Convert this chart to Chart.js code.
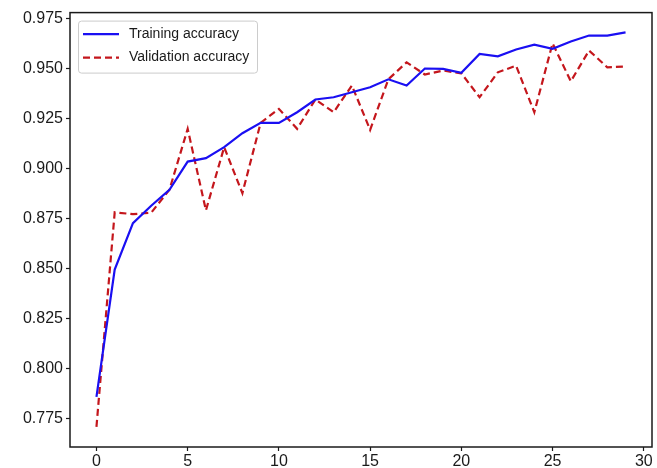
<!DOCTYPE html>
<html>
<head>
<meta charset="utf-8">
<script src="https://cdn.jsdelivr.net/npm/chart.js@4/dist/chart.umd.min.js"></script>
<style>
  html, body { margin: 0; padding: 0; background: #fff; }
  canvas { display: block; }
</style>
</head>
<body>
<canvas id="accChart" width="657" height="468"></canvas>
<script>
// values
const epochs = [0,1,2,3,4,5,6,7,8,9,10,11,12,13,14,15,16,17,18,19,20,21,22,23,24,25,26,27,28,29];
const trainAcc = [0.7858, 0.8495, 0.8728, 0.8815, 0.8895, 0.9036, 0.9053, 0.9108, 0.9178, 0.9230,
                  0.9230, 0.9283, 0.9347, 0.9358, 0.9383, 0.9408, 0.9448, 0.9417, 0.9502, 0.9500,
                  0.9481, 0.9575, 0.9563, 0.9597, 0.9621, 0.9601, 0.9637, 0.9667, 0.9667, 0.9683];
const valAcc = [0.7708, 0.8782, 0.8773, 0.8780, 0.8895, 0.9200, 0.8792, 0.9108, 0.8878, 0.9230,
                0.9300, 0.9200, 0.9347, 0.9283, 0.9417, 0.9195, 0.9448, 0.9533, 0.9472, 0.9492,
                0.9478, 0.9358, 0.9483, 0.9516, 0.9283, 0.9628, 0.9438, 0.9592, 0.9508, 0.9512];
const xTicks = [0, 5, 10, 15, 20, 25, 30];
const yTicks = [0.775, 0.800, 0.825, 0.850, 0.875, 0.900, 0.925, 0.950, 0.975];

const FONT = "'Liberation Sans', Arial, sans-serif";
const toPoints = arr => arr.map((v, i) => ({ x: epochs[i], y: v }));

// box around the axes, matplotlib style
const frame = {
    id: 'frame',
    afterDatasetsDraw(chart) {
        const { ctx, chartArea: a } = chart;
        ctx.save();
        ctx.strokeStyle = '#1a1a1a';
        ctx.lineWidth = 1.5;
        ctx.strokeRect(a.left, a.top, a.right - a.left, a.bottom - a.top);
        ctx.restore();
    }
};

// legend drawn inside the axes, upper left
const innerLegend = {
    id: 'innerLegend',
    afterDraw(chart) {
        const { ctx, chartArea: a } = chart;
        const x0 = a.left + 8, y0 = a.top + 8, w = 179, h = 52;
        ctx.save();
        ctx.fillStyle = 'rgba(255,255,255,0.85)';
        ctx.strokeStyle = '#cccccc';
        ctx.lineWidth = 1;
        ctx.beginPath();
        ctx.roundRect(x0 + 0.5, y0 + 0.5, w, h, 3);
        ctx.fill();
        ctx.stroke();
        ctx.font = '14px ' + FONT;
        ctx.textBaseline = 'middle';
        chart.data.datasets.forEach((ds, i) => {
            const y = y0 + 13.5 + i * 23.5;
            ctx.strokeStyle = ds.borderColor;
            ctx.lineWidth = ds.borderWidth;
            ctx.setLineDash(ds.borderDash || []);
            ctx.beginPath();
            ctx.moveTo(x0 + 5, y);
            ctx.lineTo(x0 + 41, y);
            ctx.stroke();
            ctx.setLineDash([]);
            ctx.fillStyle = '#1a1a1a';
            ctx.fillText(ds.label, x0 + 51, y);
        });
        ctx.restore();
    }
};

new Chart(document.getElementById('accChart'), {
    type: 'line',
    data: {
        datasets: [
            {
                label: 'Training accuracy',
                data: toPoints(trainAcc),
                borderColor: '#1a0ff2',
                borderWidth: 2.2,
                pointRadius: 0,
                tension: 0,
                fill: false
            },
            {
                label: 'Validation accuracy',
                data: toPoints(valAcc),
                borderColor: '#c4161c',
                borderWidth: 2.2,
                borderDash: [7, 4],
                pointRadius: 0,
                tension: 0,
                fill: false
            }
        ]
    },
    options: {
        responsive: false,
        animation: false,
        layout: { padding: { left: 0, right: 5, top: 12, bottom: 0 } },
        plugins: {
            legend: { display: false },
            tooltip: { enabled: false }
        },
        scales: {
            x: {
                type: 'linear',
                min: -1.45,
                max: 30.45,
                afterBuildTicks: s => { s.ticks = xTicks.map(v => ({ value: v })); },
                afterFit: s => { s.height = 21; },
                border: { display: false },
                grid: { drawOnChartArea: false, drawTicks: true, tickLength: 4, color: '#1a1a1a', tickWidth: 1.2 },
                ticks: { color: '#1a1a1a', font: { family: FONT, size: 16 }, padding: 1, maxRotation: 0 }
            },
            y: {
                type: 'linear',
                min: 0.7607,
                max: 0.9782,
                afterBuildTicks: s => { s.ticks = yTicks.map(v => ({ value: v })); },
                afterFit: s => { s.width = 70; },
                border: { display: false },
                grid: { drawOnChartArea: false, drawTicks: true, tickLength: 4, color: '#1a1a1a', tickWidth: 1.2 },
                ticks: { color: '#1a1a1a', font: { family: FONT, size: 16 }, padding: 3,
                         callback: v => v.toFixed(3) }
            }
        }
    },
    plugins: [frame, innerLegend]
});
</script>
</body>
</html>
